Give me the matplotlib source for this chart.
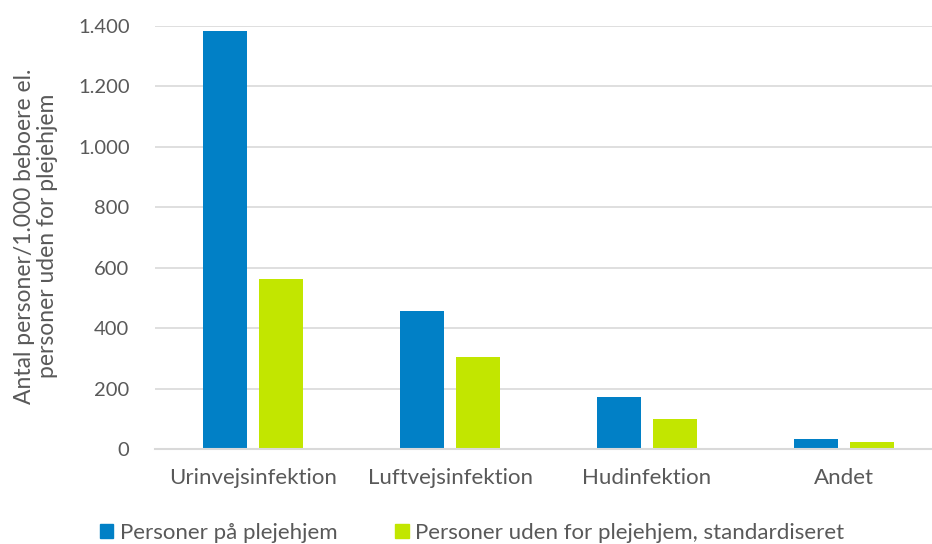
import matplotlib
matplotlib.use("Agg")
import matplotlib.pyplot as plt
import numpy as np
from matplotlib.patches import Patch

categories = ["Urinvejsinfektion", "Luftvejsinfektion", "Hudinfektion", "Andet"]
plejehjem = [1383, 456, 171, 32]
uden_for = [561, 306, 99, 22]
series_names = ["Personer på plejehjem", "Personer uden for plejehjem, standardiseret"]
yticks = [0, 200, 400, 600, 800, 1000, 1200, 1400]
ytick_labels = ["0", "200", "400", "600", "800", "1.000", "1.200", "1.400"]

plt.rcParams['font.family'] = ['Lato', 'DejaVu Sans']
txt = "#595959"
blue = "#0180C6"
green = "#C2E600"

fig = plt.figure(figsize=(9.32, 5.44), dpi=100)
ax = fig.add_axes([154.5/932, 1-449/544, 788/932, (449-26)/544])

x = np.arange(len(categories))
off = 0.142
w = 0.223
ax.bar(x - off, plejehjem, w, color=blue, zorder=3)
ax.bar(x + off, uden_for, w, color=green, zorder=3)

ax.set_xlim(-0.5, 3.5)
ax.set_ylim(0, 1400)
ax.set_yticks(yticks)
ax.set_yticklabels(ytick_labels)
ax.set_xticks(x)
ax.set_xticklabels(categories)
ax.tick_params(axis='both', length=0, colors=txt)
ax.tick_params(axis='x', pad=14, labelsize=16)
ax.tick_params(axis='y', pad=18, labelsize=14.5)
ax.yaxis.grid(True, color="#d9d9d9", linewidth=1.2, zorder=0)
for s in ["top", "right", "left"]:
    ax.spines[s].set_visible(False)
ax.spines["bottom"].set_color("#d9d9d9")
ax.spines["bottom"].set_linewidth(1.5)
ax.spines["bottom"].set_zorder(4)

fig.text(36/932, 1-236/544, "Antal personer/1.000 beboere el.\npersoner uden for plejehjem",
         rotation=90, ha="center", va="center", fontsize=16.5, color=txt, linespacing=1.1)

handles = [Patch(color=blue), Patch(color=green)]
fig.legend(handles, series_names, loc="center left", bbox_to_anchor=(100/932, 1-533/544),
           ncol=2, frameon=False, fontsize=16, labelcolor=txt,
           handlelength=0.6, handleheight=0.6, handletextpad=0.3, columnspacing=2.6,
           borderpad=0, borderaxespad=0)

fig.savefig("out.png", dpi=100)
